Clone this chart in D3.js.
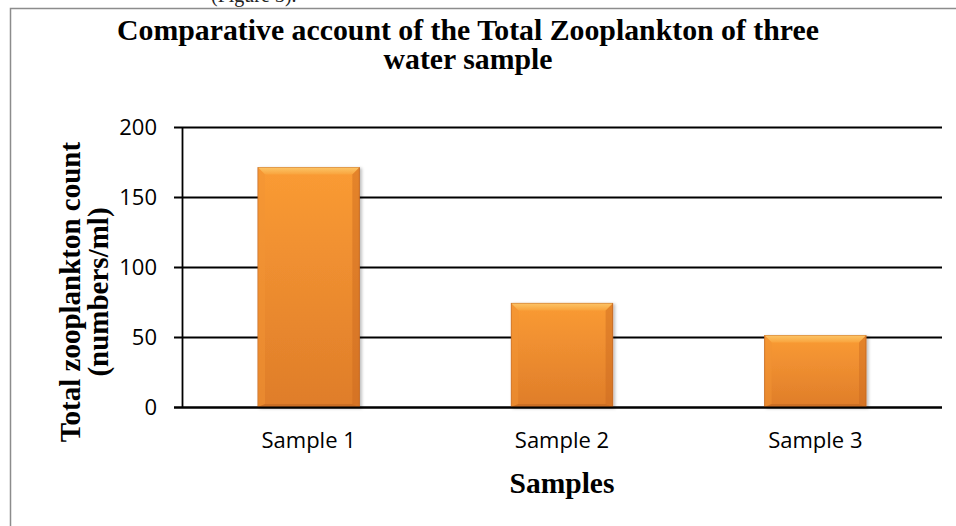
<!DOCTYPE html>
<html><head><meta charset="utf-8">
<script src="https://cdn.jsdelivr.net/npm/d3@7"></script>
<style>html,body{margin:0;padding:0;background:#fff;overflow:hidden}</style>
</head><body>
<script>
const categories = ["Sample 1", "Sample 2", "Sample 3"];
const values = [171, 74, 51];
const yTicks = [0, 50, 100, 150, 200];
const titleLines = ["Comparative account of the Total Zooplankton of three", "water sample"];
const yTitleLines = ["Total zooplankton count", "(numbers/ml)"];
const xTitle = "Samples";

const W = 956, H = 526;
const svg = d3.select("body").append("svg").attr("width", W).attr("height", H);

// clipped line of preceding document text
svg.append("text").attr("x", 211).attr("y", 2)
  .attr("font-family", "Liberation Serif").attr("font-size", 20).attr("fill", "#222")
  .text("(Figure 3).");
// chart frame
svg.append("rect").attr("x", 10.5).attr("y", 8.5).attr("width", 960).attr("height", 540)
  .attr("fill", "#fff").attr("stroke", "#8c8c8c").attr("stroke-width", 1.5);

const x = d3.scaleBand().domain(categories).range([182, 942]).paddingInner(0.6).paddingOuter(0.3);
const y = d3.scaleLinear().domain([0, 200]).range([407, 127]);

const defs = svg.append("defs");
const g1 = defs.append("linearGradient").attr("id", "barGrad").attr("x1", 0).attr("y1", 0).attr("x2", 0).attr("y2", 1);
g1.append("stop").attr("offset", "0%").attr("stop-color", "#FA9B34");
g1.append("stop").attr("offset", "100%").attr("stop-color", "#DF7D2A");
const g2 = defs.append("linearGradient").attr("id", "topBev").attr("x1", 0).attr("y1", 0).attr("x2", 0).attr("y2", 1);
g2.append("stop").attr("offset", "0%").attr("stop-color", "#FCC466");
g2.append("stop").attr("offset", "100%").attr("stop-color", "#F9A33C");
const f = defs.append("filter").attr("id", "shadow").attr("x", "-10%").attr("y", "-10%").attr("width", "130%").attr("height", "130%");
f.append("feDropShadow").attr("dx", 2).attr("dy", 1).attr("stdDeviation", 1.5).attr("flood-color", "#000").attr("flood-opacity", 0.25);

// gridlines + ticks
svg.append("g").selectAll("line").data(yTicks).join("line")
  .attr("x1", 174).attr("x2", 942)
  .attr("y1", d => Math.round(y(d)) + 0.5).attr("y2", d => Math.round(y(d)) + 0.5)
  .attr("stroke", "#000").attr("stroke-width", 1.8);
// y axis line
svg.append("line").attr("x1", 182.5).attr("x2", 182.5).attr("y1", y(200)).attr("y2", y(0) + 1)
  .attr("stroke", "#000").attr("stroke-width", 1.8);

// y tick labels
svg.append("g").selectAll("text").data(yTicks).join("text")
  .attr("x", 157).attr("y", d => y(d)).attr("dy", "0.36em")
  .attr("text-anchor", "end").attr("font-family", "Open Sans").attr("font-size", 22).attr("fill", "#000")
  .text(d => d);

// bars
const bars = svg.append("g").selectAll("g").data(values).join("g");
const bev = 7;
bars.append("rect")
  .attr("x", (d, i) => x(categories[i])).attr("width", x.bandwidth())
  .attr("y", d => y(d)).attr("height", d => y(0) - y(d))
  .attr("fill", "url(#barGrad)").attr("stroke", "#C56A22").attr("stroke-width", 1)
  .attr("filter", "url(#shadow)");
bars.append("polygon")
  .attr("points", (d, i) => {
    const x0 = x(categories[i]), x1 = x0 + x.bandwidth(), t = y(d);
    return [[x0, t], [x1, t], [x1 - bev, t + bev], [x0 + bev, t + bev]].map(p => p.join(",")).join(" ");
  }).attr("fill", "url(#topBev)");
bars.append("polygon")
  .attr("points", (d, i) => {
    const x0 = x(categories[i]), t = y(d), b = y(0);
    return [[x0, t], [x0 + bev, t + bev], [x0 + bev, b - 3], [x0, b]].map(p => p.join(",")).join(" ");
  }).attr("fill", "#F29433").attr("opacity", 0.5);
bars.append("polygon")
  .attr("points", (d, i) => {
    const x1 = x(categories[i]) + x.bandwidth(), t = y(d), b = y(0);
    return [[x1, t], [x1 - bev, t + bev], [x1 - bev, b - 3], [x1, b]].map(p => p.join(",")).join(" ");
  }).attr("fill", "#C9681F").attr("opacity", 0.45);
bars.append("polygon")
  .attr("points", (d, i) => {
    const x0 = x(categories[i]), x1 = x0 + x.bandwidth(), b = y(0);
    return [[x0, b], [x1, b], [x1 - bev, b - 3], [x0 + bev, b - 3]].map(p => p.join(",")).join(" ");
  }).attr("fill", "#B8601E").attr("opacity", 0.5);

// x axis baseline (drawn over bars)
svg.append("line").attr("x1", 174).attr("x2", 942).attr("y1", Math.round(y(0)) + 0.5).attr("y2", Math.round(y(0)) + 0.5)
  .attr("stroke", "#000").attr("stroke-width", 1.8);

// x category labels
svg.append("g").selectAll("text").data(categories).join("text")
  .attr("x", d => x(d) + x.bandwidth() / 2).attr("y", 448)
  .attr("text-anchor", "middle").attr("font-family", "Open Sans").attr("font-size", 22).attr("fill", "#000")
  .text(d => d);

// title (slightly widened to match)
svg.append("g").selectAll("text").data(titleLines).join("text")
  .attr("x", 468).attr("y", (d, i) => 40 + i * 29)
  .attr("text-anchor", "middle").attr("font-family", "Liberation Serif").attr("font-weight", "bold")
  .attr("font-size", 28.5).attr("fill", "#000")
  .text(d => d)
  .each(function () {
    const len = this.getComputedTextLength();
    d3.select(this).attr("textLength", len * 1.045).attr("lengthAdjust", "spacingAndGlyphs");
  });

// y title
svg.append("g").selectAll("text").data(yTitleLines).join("text")
  .attr("transform", (d, i) => `translate(${80 + i * 28},292) rotate(-90)`)
  .attr("text-anchor", "middle").attr("font-family", "Liberation Serif").attr("font-weight", "bold")
  .attr("font-size", 29).attr("fill", "#000")
  .text(d => d);

// x title
svg.append("text").attr("x", 562).attr("y", 493).attr("text-anchor", "middle")
  .attr("font-family", "Liberation Serif").attr("font-weight", "bold").attr("font-size", 29.5).attr("fill", "#000")
  .text(xTitle);
</script>
</body></html>
